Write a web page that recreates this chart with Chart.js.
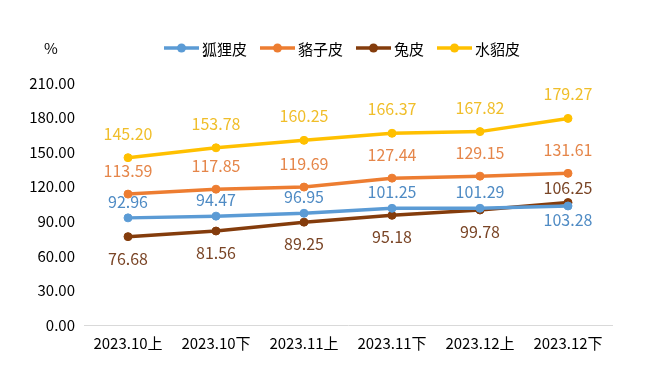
<!DOCTYPE html>
<html><head><meta charset="utf-8">
<script src="https://cdn.jsdelivr.net/npm/chart.js@4/dist/chart.umd.min.js"></script>
<style>html,body{margin:0;padding:0;background:#fff}#wrap{width:649px;height:374px}</style>
</head><body><div id="wrap"><canvas id="c" width="649" height="374"></canvas></div>
<script>
const categories = ["2023.10上","2023.10下","2023.11上","2023.11下","2023.12上","2023.12下"];
const foxValues = [92.96, 94.47, 96.95, 101.25, 101.29, 103.28];
const raccoonValues = [113.59, 117.85, 119.69, 127.44, 129.15, 131.61];
const rabbitValues = [76.68, 81.56, 89.25, 95.18, 99.78, 106.25];
const minkValues = [145.20, 153.78, 160.25, 166.37, 167.82, 179.27];
const seriesNames = ["狐狸皮","貉子皮","兔皮","水貂皮"];
const yTicks = [0, 30, 60, 90, 120, 150, 180, 210];
const unitLabel = "%";

const FONT = "'Noto Sans CJK SC', 'Noto Sans', sans-serif";
const colors = ["#5B9BD5", "#ED7D31", "#843C0C", "#FFC000"];
const labelColors = ["#4F8BC4", "#E5864A", "#7A4526", "#F0BE2A"];
// label placement: offset (px) from point, negative = above
const labelOffsets = [
  [-16,-16,-16,-16,-16,14],
  [-23,-23,-23,-23,-23,-23],
  [22,22,22,22,22,-15],
  [-24,-24,-24,-24,-24,-24]
];

const allSeries = [foxValues, raccoonValues, rabbitValues, minkValues];
const datasets = allSeries.map((vals, i) => ({
  label: seriesNames[i],
  data: vals,
  borderColor: colors[i],
  backgroundColor: colors[i],
  borderWidth: 3.5,
  pointRadius: 4,
  pointBorderWidth: 1,
  pointHoverRadius: 4,
  pointBackgroundColor: colors[i],
  pointBorderColor: colors[i],
  tension: 0,
  fill: false
}));

const extras = {
  id: 'extras',
  afterDatasetsDraw(chart) {
    const ctx = chart.ctx;
    ctx.save();
    // data labels
    ctx.font = "16px " + FONT;
    ctx.textAlign = "center";
    ctx.textBaseline = "middle";
    chart.data.datasets.forEach((ds, i) => {
      const meta = chart.getDatasetMeta(i);
      ctx.fillStyle = labelColors[i];
      meta.data.forEach((pt, j) => {
        ctx.fillText(ds.data[j].toFixed(2), pt.x, pt.y + labelOffsets[i][j]);
      });
    });
    // unit
    ctx.fillStyle = "#000";
    ctx.font = "15px " + FONT;
    ctx.fillText(unitLabel, 51, 48);
    // legend
    ctx.font = "15px " + FONT;
    const lineLen = 35, gapText = 3, gapItem = 13;
    const widths = seriesNames.map(n => ctx.measureText(n).width);
    const total = widths.reduce((a, w) => a + lineLen + gapText + w, 0) + gapItem * (seriesNames.length - 1);
    let x = (chart.chartArea.left + chart.chartArea.right) / 2 - 6 - total / 2;
    const y = 48;
    seriesNames.forEach((n, i) => {
      ctx.strokeStyle = colors[i];
      ctx.lineWidth = 3.5;
      ctx.beginPath(); ctx.moveTo(x, y); ctx.lineTo(x + lineLen, y); ctx.stroke();
      ctx.fillStyle = colors[i];
      ctx.beginPath(); ctx.arc(x + lineLen / 2, y, 4.5, 0, Math.PI * 2); ctx.fill();
      ctx.fillStyle = "#000";
      ctx.textAlign = "left";
      ctx.fillText(n, x + lineLen + gapText, y + 1);
      x += lineLen + gapText + widths[i] + gapItem;
    });
    ctx.restore();
  }
};

new Chart(document.getElementById('c'), {
  type: 'line',
  data: { labels: categories, datasets },
  options: {
    responsive: false,
    animation: false,
    layout: { padding: { top: 83, right: 37, left: 0, bottom: 0 } },
    plugins: { legend: { display: false }, tooltip: { enabled: false } },
    scales: {
      x: {
        offset: true,
        grid: { display: false, drawTicks: false },
        border: { display: true, color: "#D9D9D9", width: 1 },
        ticks: { color: "#000", font: { family: FONT, size: 15 }, padding: 9, maxRotation: 0, autoSkip: false },
        afterFit(s) { s.height = 49; }
      },
      y: {
        min: 0, max: 210,
        afterBuildTicks(s) { s.ticks = yTicks.map(v => ({ value: v })); },
        grid: { display: false, drawTicks: false },
        border: { display: false },
        ticks: { color: "#000", font: { family: FONT, size: 15 }, padding: 9, callback: v => Number(v).toFixed(2) },
        afterFit(s) { s.width = 84; }
      }
    }
  },
  plugins: [extras]
});
</script></body></html>
